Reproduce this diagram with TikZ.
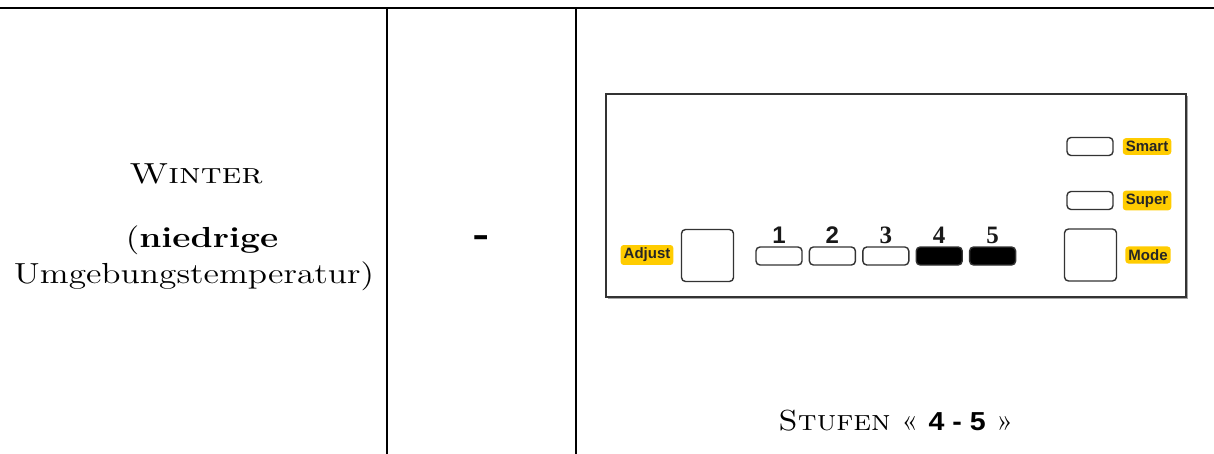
\documentclass[tikz,border=0pt]{standalone}
\usepackage{fontspec}
\setsansfont{Liberation Sans}
\newfontfamily\numserif{Liberation Serif}
\usetikzlibrary{positioning}
\definecolor{hilite}{HTML}{FFCC00}

\begin{document}
\begin{tikzpicture}[x=0.5pt,y=-0.5pt,
    rule/.style={line width=1pt},
    cell text/.style={anchor=base,inner sep=0pt,text=black,font=\fontsize{14.5}{18}\selectfont,xscale=1.22,transform shape},
    caption text/.style={cell text,xscale=0.9},
    panel/.style={draw=black!80,line width=0.8pt,fill=white,minimum width=290pt,minimum height=101.5pt,inner sep=0pt},
    panel shadow/.style={fill=black!35,minimum width=290pt,minimum height=101.5pt,inner sep=0pt},
    btn/.style={draw=black!80,line width=0.7pt,rounded corners=2pt,minimum width=23pt,minimum height=9pt,inner sep=0pt,fill=white},
    btn on/.style={btn,fill=black},
    sqbtn/.style={draw=black!80,line width=0.7pt,rounded corners=2pt,minimum size=26pt,inner sep=0pt,fill=white},
    lbl/.style={fill=hilite,rounded corners=1.5pt,inner sep=1.5pt,text=black!85,font=\sffamily\bfseries\fontsize{7.5}{9}\selectfont},
    num/.style={inner sep=0pt,text=black!90,font=\sffamily\bfseries\fontsize{12}{12}\selectfont},
    num serif/.style={num,font=\numserif\bfseries\fontsize{12.5}{12}\selectfont}]
    \useasboundingbox (0,0) rectangle (1214,454);

    % table rules
    \draw[rule] (0,8) -- (1214,8);
    \draw[rule] (387,8) -- (387,454);
    \draw[rule] (576,8) -- (576,454);

    % left column
    \node[cell text] (season) at (196,184) {\textsc{Winter}};
    \node[cell text] (cond) at (202,248) {(\textbf{niedrige}};
    \node[cell text] (cond2) at (194,283) {Umgebungstemperatur)};

    % middle column
    \node[anchor=base,inner sep=0pt,font=\sffamily\fontsize{26}{26}\selectfont] (dash) at (481,251) {-};

    % control panel
    \node[panel shadow] (shadow) at (898,197.5) {};
    \node[panel] (panel) at (896,195.5) {};

    \node[lbl] (adjust) at (647,255) {Adjust};
    \node[sqbtn] (adjsq) at (707.5,255.5) {};

    \node[btn] (b1) at (779,256) {};
    \node[btn] (b2) [right=3pt of b1] {};
    \node[btn] (b3) [right=3pt of b2] {};
    \node[btn on] (b4) [right=3pt of b3] {};
    \node[btn on] (b5) [right=3pt of b4] {};

    \node[num] (n1) [above=1pt of b1] {1};
    \node[num] (n2) [above=1pt of b2] {2};
    \node[num serif] (n3) [above=1pt of b3] {3};
    \node[num serif] (n4) [above=1pt of b4] {4};
    \node[num serif] (n5) [above=1pt of b5] {5};

    \node[btn] (smartbtn) at (1090,146.5) {};
    \node[lbl] (smart) at (1147,146.5) {Smart};
    \node[btn] (superbtn) at (1090,200.5) {};
    \node[lbl] (super) at (1147,200.5) {Super};
    \node[sqbtn] (modesq) at (1090.5,255) {};
    \node[lbl] (mode) at (1148,255) {Mode};

    % caption under the panel
    \node[caption text] (levels) at (896,430) {\textsc{Stufen} « {\sffamily\bfseries\fontsize{13}{15}\selectfont 4 - 5} »};

\end{tikzpicture}
\end{document}
